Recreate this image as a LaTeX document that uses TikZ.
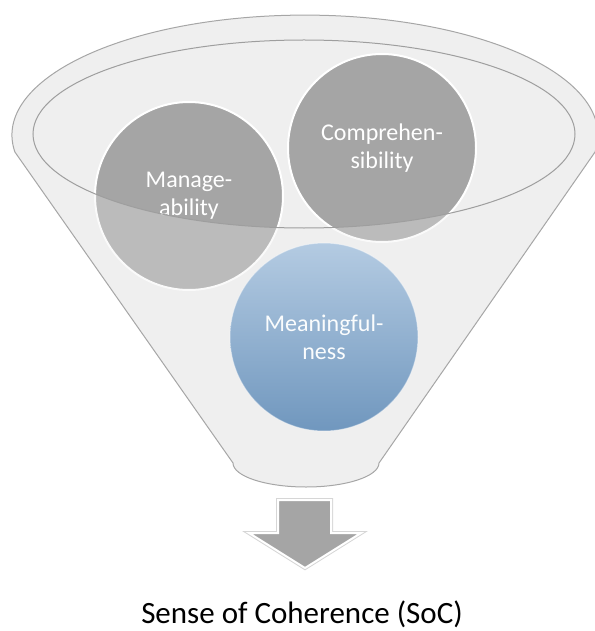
\documentclass[tikz,border=0pt]{standalone}
\usepackage{fontspec}
\setmainfont{Carlito}
\begin{document}
\definecolor{funnelfill}{HTML}{EFEFEF}
\definecolor{funneledge}{HTML}{A6A6A6}
\definecolor{ballgray}{HTML}{A5A5A5}
\definecolor{blueTop}{HTML}{B4CBE2}
\definecolor{blueBottom}{HTML}{7097BE}
\definecolor{arrowedge}{HTML}{D6D6D6}
\begin{tikzpicture}[x=1pt,y=-1pt,
  ball/.style={circle, minimum size=188pt, inner sep=0pt, align=center,
    text=white, font=\fontsize{24}{28}\selectfont},
  grayball/.style={ball, fill=ballgray, draw=white, line width=2pt},
  rim/.style={draw=funneledge, line width=1pt}]
\useasboundingbox (0,0) rectangle (594,631);

% funnel body: upper half of the mouth, two sides and a rounded spout
\def\funnelpath{(14.9,152) arc[start angle=171.9, end angle=368.1, x radius=293, y radius=120]
  -- (379,463) arc[start angle=0, end angle=180, x radius=73, y radius=24] -- cycle}
\fill[funnelfill] \funnelpath;

% the two grey balls sitting in the mouth
\node[grayball] (manage) at (189,196) {Manage-\\ability};
\node[grayball] (compre) at (382,148) {Comprehen-\\sibility};

% translucent front wall of the funnel, below the inner rim
\fill[funnelfill, fill opacity=0.3, even odd rule] \funnelpath
  (304,134) ellipse[x radius=271, y radius=94];

% the blue ball in front
\node[ball, top color=blueTop, bottom color=blueBottom, draw=white, draw opacity=0.4,
  line width=1pt, text=white!94!blueTop] (meaning) at (324,337) {Meaningful-\\ness};

% outlines
\draw[rim] \funnelpath;
\draw[rim, draw=funneledge!95!black] (304,134) ellipse[x radius=271, y radius=94];

% block arrow below the spout
\coordinate (arrowtip) at (305,568);
\def\arrowpath{(278,500) -- (331,500) -- (331,533) -- (361,533) -- (arrowtip)
  -- (249,533) -- (278,533) -- cycle}
\draw[arrowedge, line width=4pt, line join=miter] \arrowpath;
\draw[white, line width=2pt, fill=ballgray, line join=miter] \arrowpath;

% caption
\node[anchor=base, font=\fontsize{31}{36}\selectfont] (soc) at (302,623) {Sense of Coherence (SoC)};
\end{tikzpicture}
\end{document}
